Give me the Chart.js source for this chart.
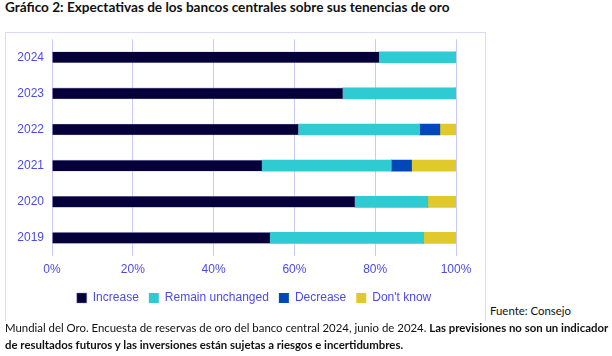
<!DOCTYPE html>
<html><head><meta charset="utf-8">
<script src="https://cdn.jsdelivr.net/npm/chart.js@4.4.1/dist/chart.umd.min.js"></script>
<style>
html,body{margin:0;padding:0;background:#fff;width:612px;height:356px;overflow:hidden;}
#title{position:absolute;left:5px;top:-1px;font-family:Lato,"Open Sans",sans-serif;font-weight:bold;font-size:13.6px;color:#111;white-space:nowrap;}
#frame{position:absolute;left:5px;top:32px;width:479px;height:288px;border:1px solid #d9d9fb;border-bottom:none;}
#wrap{position:absolute;left:5px;top:24px;width:480px;height:298px;}
.note{position:absolute;font-family:Lato,"Open Sans",sans-serif;font-size:11.4px;color:#111;white-space:nowrap;}
b{font-weight:bold;}
</style></head>
<body>
<div id="title">Gráfico 2: Expectativas de los bancos centrales sobre sus tenencias de oro</div>
<div id="frame"></div>
<div id="wrap"><canvas id="c" width="480" height="298"></canvas></div>
<div class="note" style="left:490px;top:304px;">Fuente: Consejo</div>
<div class="note" style="left:5px;top:321px;">Mundial del Oro. Encuesta de reservas de oro del banco central 2024, junio de 2024. <b>Las previsiones no son un indicador</b></div>
<div class="note" style="left:5px;top:338px;"><b>de resultados futuros y las inversiones están sujetas a riesgos e incertidumbres.</b></div>
<script>
const years = ['2024','2023','2022','2021','2020','2019'];
const increase = [81, 72, 61, 52, 75, 54];
const remainUnchanged = [19, 28, 30, 32, 18, 38];
const decrease = [0, 0, 5, 5, 0, 0];
const dontKnow = [0, 0, 4, 11, 7, 8];
const xTicks = [0, 20, 40, 60, 80, 100];

const blue = '#4b4bea';
new Chart(document.getElementById('c'), {
  type: 'bar',
  data: {
    labels: years,
    datasets: [
      {label:'Increase', data: increase, backgroundColor:'#05003a', borderColor:'rgba(140,140,190,0.8)', borderWidth:0.6},
      {label:'Remain unchanged', data: remainUnchanged, backgroundColor:'#2ecbd3'},
      {label:'Decrease', data: decrease, backgroundColor:'#0047bb'},
      {label:"Don't know", data: dontKnow, backgroundColor:'#e0c92b'}
    ]
  },
  options: {
    indexAxis: 'y',
    responsive: false,
    animation: false,
    datasets: {bar: {barThickness: 11}},
    layout: {padding: {left: 0, right: 29, top: 7, bottom: 8}},
    plugins: {
      tooltip: {enabled:false},
      legend: {
        position:'bottom',
        fullSize: false,
        labels: {boxWidth:10, boxHeight:10, padding:10, color: blue, font:{family:'"Liberation Sans", Arial, sans-serif', size:12}}
      }
    },
    scales: {
      x: {
        stacked: true, min: 0, max: 100,
        afterBuildTicks: s => { s.ticks = xTicks.map(v => ({value:v})); },
        afterFit: s => { s.height = 26; },
        border: {display:false},
        grid: {color:'#c9c9fb', lineWidth:1, drawTicks:false},
        ticks: {padding:6, color: blue, font:{family:'"Liberation Sans", Arial, sans-serif', size:12}, callback: v => v + '%'}
      },
      y: {
        stacked: true,
        afterFit: s => { s.width = 47; },
        border: {display:false},
        grid: {display:false, drawTicks:false},
        ticks: {padding:8, color: blue, font:{family:'"Liberation Sans", Arial, sans-serif', size:12}}
      }
    }
  }
});
</script>
</body></html>
